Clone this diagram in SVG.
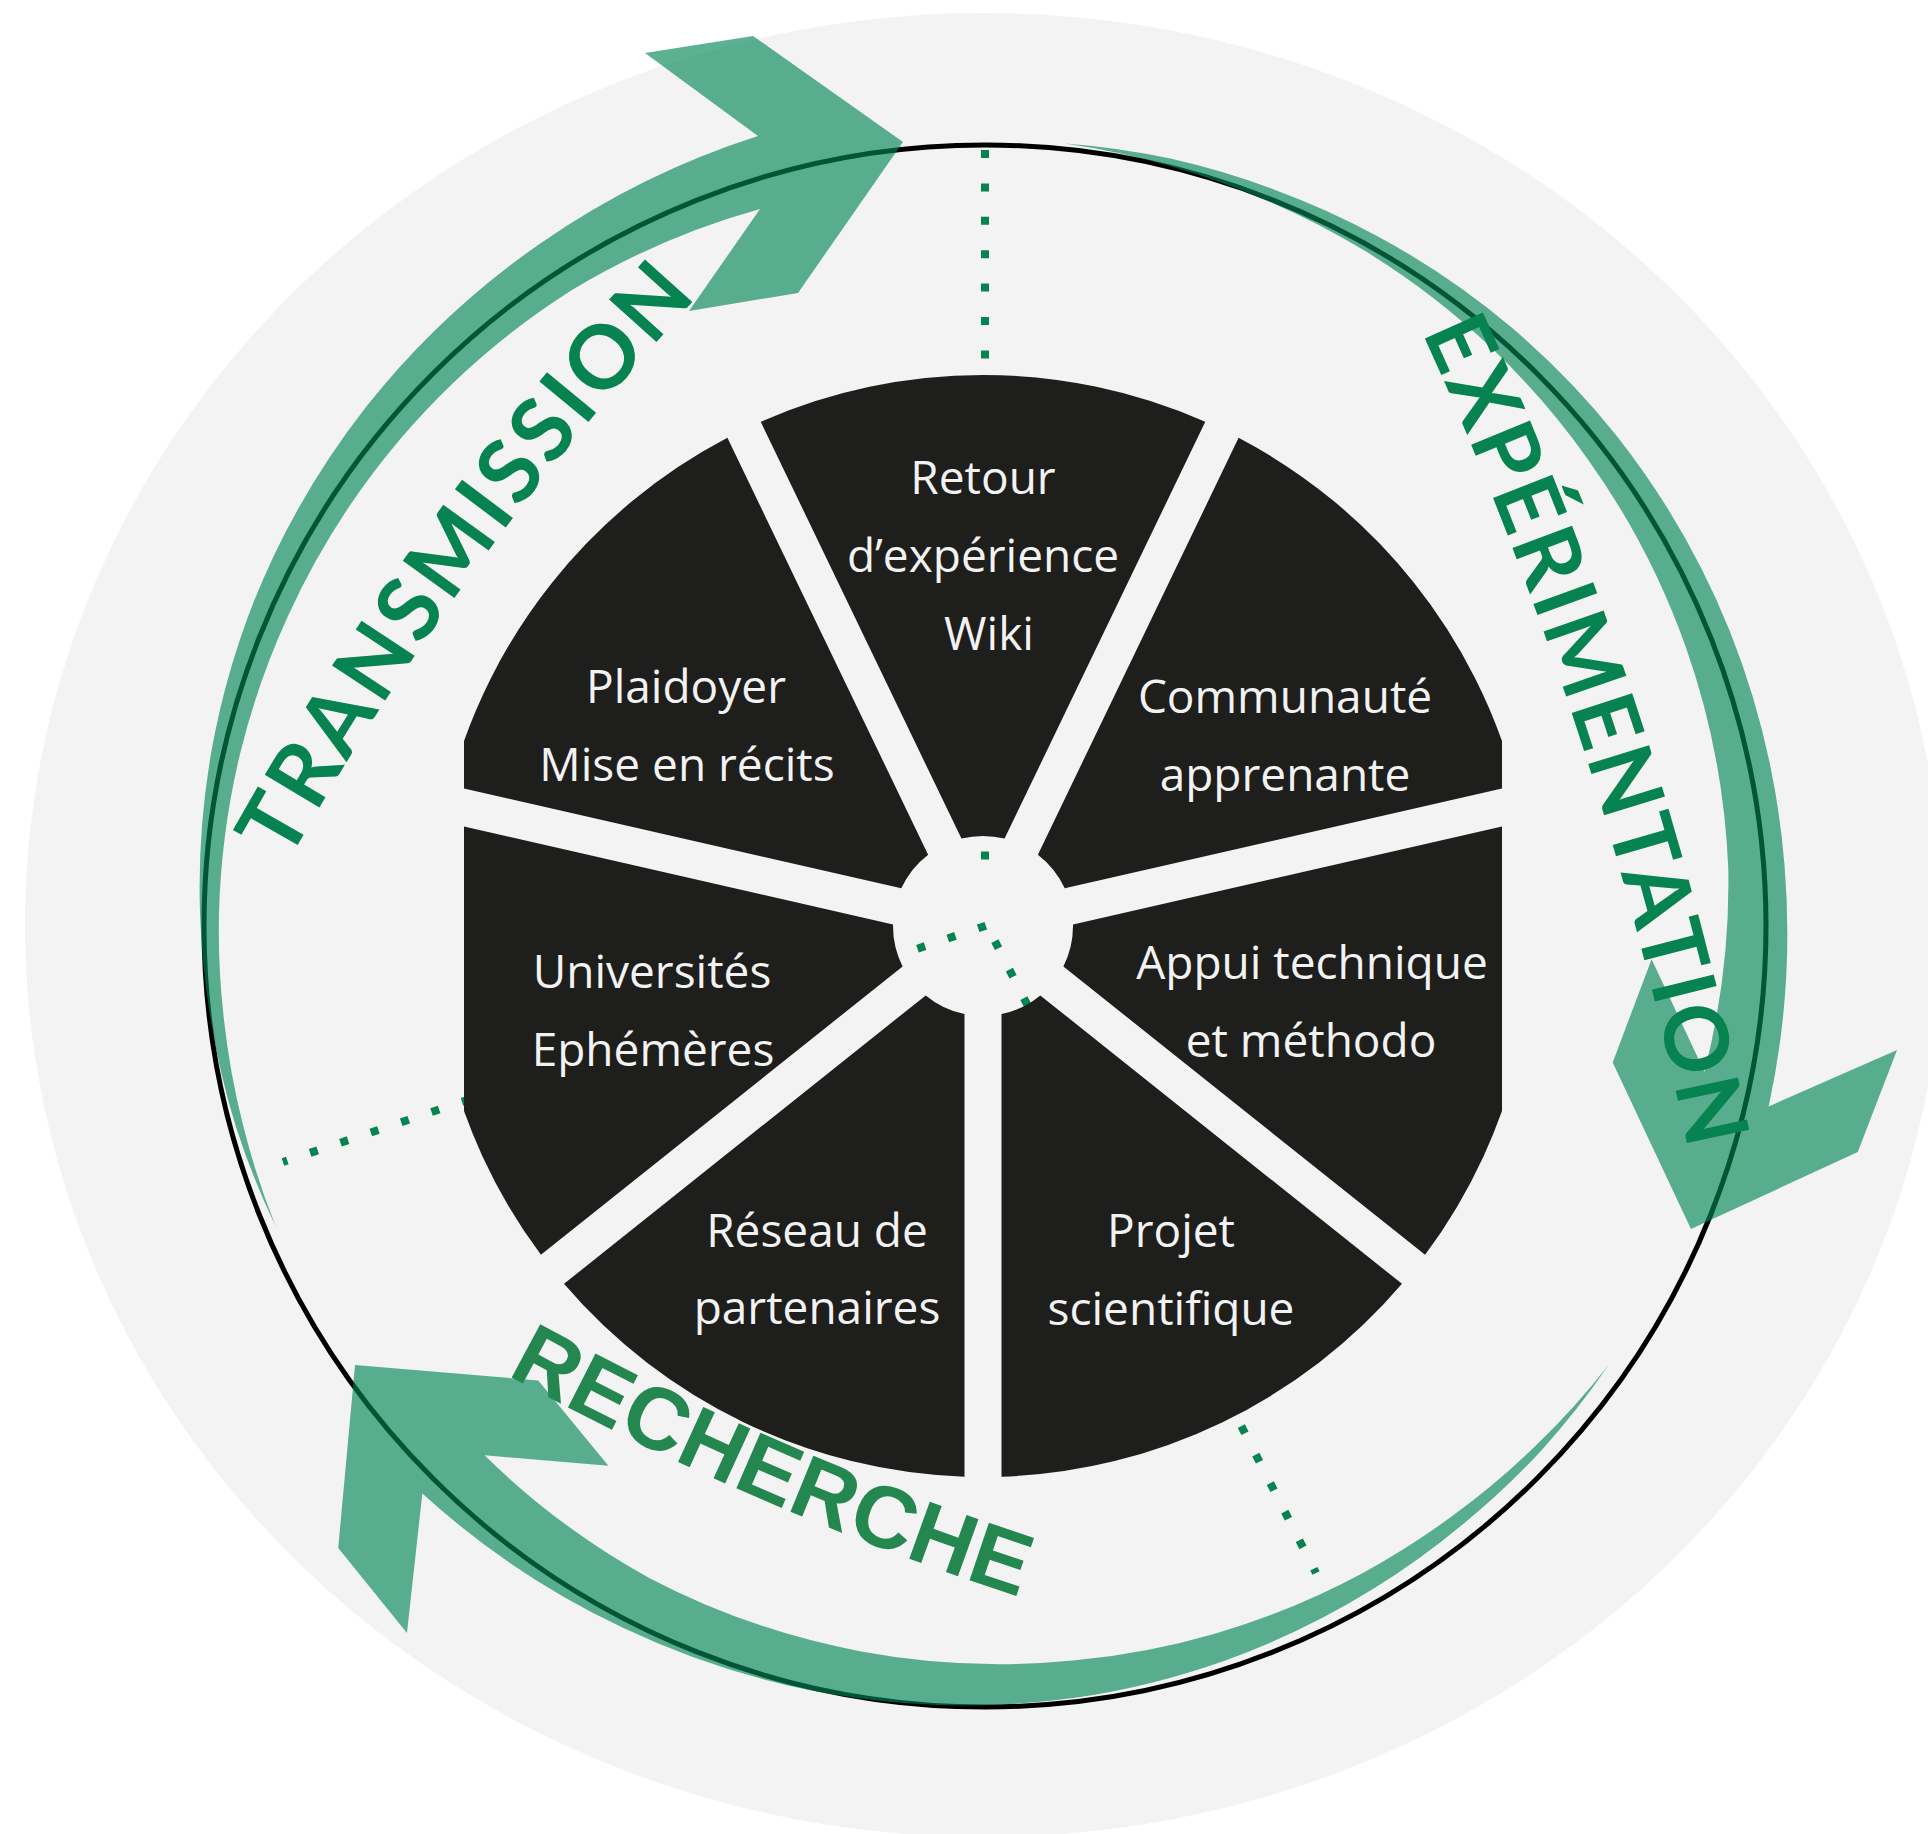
<svg xmlns="http://www.w3.org/2000/svg" xmlns:xlink="http://www.w3.org/1999/xlink" width="1928" height="1834" viewBox="0 0 1928 1834">
<style>
.arrow{fill:#008556;fill-opacity:0.64}
.dots{fill:none;stroke:#078251;stroke-width:8;}
.sector{fill:#1e1e1c}
.label{font-family:"Open Sans","Noto Sans",sans-serif;font-size:46px;fill:#f2f2f2;text-anchor:middle}
.cycle{font-family:Lato,"Noto Sans",sans-serif;font-weight:700;font-size:88px;fill:#078251}
.cycle2{font-family:"Liberation Sans",Arial,sans-serif;font-weight:700;font-size:88px;fill:#23874f}
</style>
<defs>
<clipPath id="pieclip"><rect x="464" y="0" width="1038" height="1834"/></clipPath>
<path id="arrow-shape" d="M276 1227 A770 770 0 0 1 236 1127 A775 775 0 0 1 211 1021 A780 780 0 0 1 200 912 A785 785 0 0 1 212 748 A793 793 0 0 1 254 601 A800 800 0 0 1 366 407 A808 808 0 0 1 541 243 A815 815 0 0 1 758 136 L645 53 L753 36 L903 142 L798 293 L689 311 L760 209 A755 755 0 0 0 572 290 A758 758 0 0 0 402 437 A761 761 0 0 0 288 616 A763 763 0 0 0 240 754 A765 765 0 0 0 219 913 A766 766 0 0 0 224 1020 A767 767 0 0 0 243 1125 A768 768 0 0 0 276 1227 Z"/>
<path id="p-trans" d="M287.7 862.8 A3000 3000 0 0 1 699.7 294.4"/>
<path id="p-exp" d="M1421.9 332.1 A3800 3800 0 0 1 1689.4 1155.9"/>
<path id="p-rech" d="M506.5 1374.6 A3000 3000 0 0 0 1023 1598"/>
</defs>
<rect x="0" y="0" width="1928" height="1834" fill="#ffffff"/>
<ellipse cx="984" cy="925" rx="959" ry="912" fill="#f3f3f3"/>
<circle cx="985" cy="926" r="781" fill="none" stroke="#000000" stroke-width="5"/>
<g id="cycle-arrows">
<use xlink:href="#arrow-shape" class="arrow"/>
<use xlink:href="#arrow-shape" class="arrow" transform="translate(-14,-18) rotate(120 985 926)"/>
<use xlink:href="#arrow-shape" class="arrow" transform="translate(8,-24) rotate(240 985 926)"/>
</g>
<g id="connectors">
<path class="dots" d="M985 150 L985 860" stroke-dasharray="8 25.4"/>
<path class="dots" d="M985.8 925.7 L283 1162" stroke-dasharray="8 24.04"/>
<path class="dots" d="M994.9 941.1 L1316 1573" stroke-dasharray="8 24"/>
</g>
<g clip-path="url(#pieclip)">
<g id="node-retour">
<path class="sector" d="M760.74 421.81 A551 551 0 0 1 1205.26 421.81 L1004.55 838.62 A90 90 0 0 0 961.45 838.62 Z"/>
<text class="label" x="983" y="494">Retour</text>
<text class="label" x="983" y="572">d’expérience</text>
<text class="label" x="989" y="650">Wiki</text>
</g>
<g id="node-communaute">
<path class="sector" d="M1238.59 437.86 A551 551 0 0 1 1515.77 785.43 L1064.75 888.37 A90 90 0 0 0 1037.88 854.67 Z"/>
<text class="label" x="1285" y="713">Communauté</text>
<text class="label" x="1285" y="791">apprenante</text>
</g>
<g id="node-appui">
<path class="sector" d="M1524 821.5 A551 551 0 0 1 1425.09 1254.87 L1063.4 966.45 A90 90 0 0 0 1072.99 924.44 Z"/>
<text class="label" x="1312" y="979">Appui technique</text>
<text class="label" x="1311" y="1057">et méthodo</text>
</g>
<g id="node-projet">
<path class="sector" d="M1401.99 1283.84 A551 551 0 0 1 1001.5 1476.69 L1001.5 1014.08 A90 90 0 0 0 1040.29 995.41 Z"/>
<text class="label" x="1171" y="1247">Projet</text>
<text class="label" x="1171" y="1325">scientifique</text>
</g>
<g id="node-reseau">
<path class="sector" d="M964.5 1476.69 A551 551 0 0 1 564.01 1283.84 L925.71 995.41 A90 90 0 0 0 964.5 1014.08 Z"/>
<text class="label" x="817" y="1247">Réseau de</text>
<text class="label" x="817" y="1324">partenaires</text>
</g>
<g id="node-universites">
<path class="sector" d="M540.91 1254.87 A551 551 0 0 1 442 821.5 L893.01 924.44 A90 90 0 0 0 902.6 966.45 Z"/>
<text class="label" x="652" y="988">Universités</text>
<text class="label" x="653" y="1066">Ephémères</text>
</g>
<g id="node-plaidoyer">
<path class="sector" d="M450.23 785.43 A551 551 0 0 1 727.41 437.86 L928.12 854.67 A90 90 0 0 0 901.25 888.37 Z"/>
<text class="label" x="686" y="703">Plaidoyer</text>
<text class="label" x="687" y="781">Mise en récits</text>
</g>
</g>
<g id="cycle-labels">
<text class="cycle"><textPath xlink:href="#p-trans" textLength="700" lengthAdjust="spacing">TRANSMISSION</textPath></text>
<text class="cycle"><textPath xlink:href="#p-exp" textLength="862" lengthAdjust="spacing">EXPÉRIMENTATION</textPath></text>
<text class="cycle2"><textPath xlink:href="#p-rech" textLength="560" lengthAdjust="spacing">RECHERCHE</textPath></text>
</g>
</svg>
